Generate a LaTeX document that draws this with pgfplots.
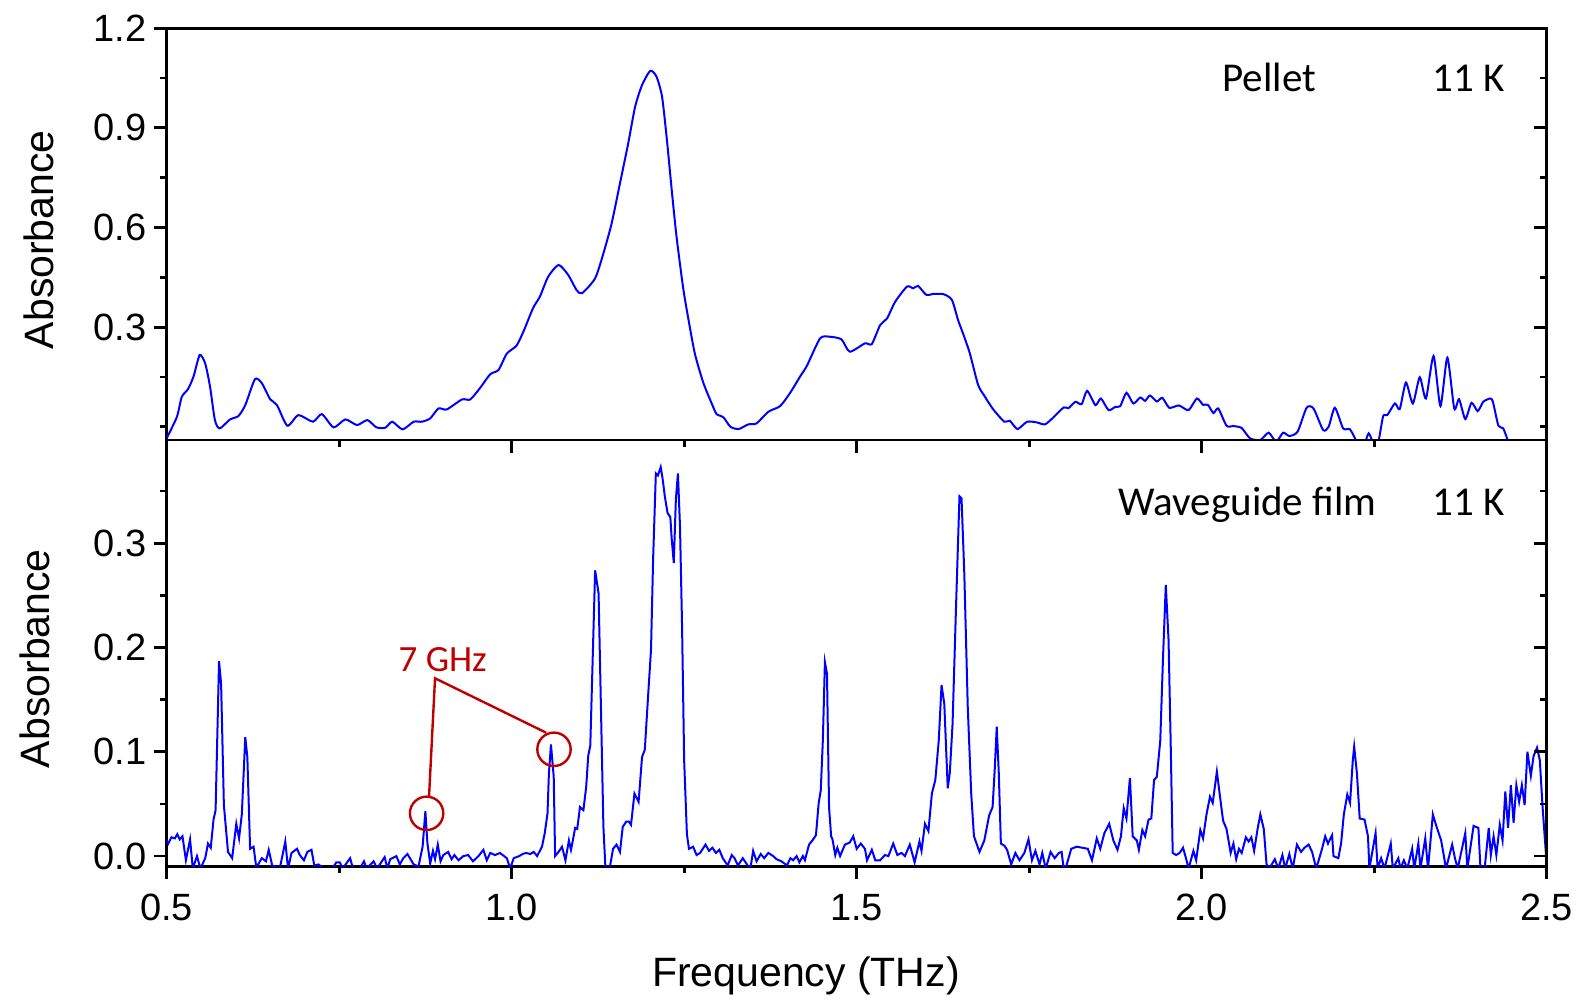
\documentclass[border=0pt]{standalone}
\usepackage{pgfplots}
\pgfplotsset{compat=1.18}
\usepackage{pgfplotstable}
\usepackage{fontspec}
\setmainfont{Liberation Sans}
\newfontfamily\calib{Carlito}
\definecolor{annred}{RGB}{192,0,0}

\pgfplotstableread{
x y
0.500 -0.035
0.515 0.030
0.522 0.090
0.531 0.113
0.539 0.151
0.548 0.216
0.556 0.190
0.563 0.120
0.570 0.020
0.577 -0.005
0.592 0.022
0.604 0.032
0.614 0.065
0.628 0.143
0.638 0.131
0.650 0.083
0.660 0.065
0.675 0.003
0.691 0.035
0.712 0.015
0.725 0.038
0.742 -0.002
0.759 0.022
0.776 0.005
0.791 0.020
0.804 -0.002
0.817 -0.003
0.827 0.015
0.842 -0.008
0.858 0.015
0.870 0.015
0.882 0.025
0.894 0.055
0.906 0.052
0.928 0.082
0.940 0.082
0.954 0.116
0.969 0.158
0.981 0.171
0.993 0.220
1.007 0.244
1.017 0.286
1.031 0.357
1.041 0.392
1.053 0.452
1.068 0.487
1.082 0.457
1.094 0.412
1.102 0.402
1.121 0.447
1.133 0.522
1.145 0.613
1.157 0.733
1.169 0.854
1.179 0.964
1.189 1.029
1.201 1.072
1.210 1.054
1.218 0.994
1.225 0.864
1.232 0.713
1.239 0.572
1.249 0.412
1.259 0.291
1.266 0.216
1.278 0.131
1.292 0.060
1.297 0.038
1.307 0.028
1.317 0.000
1.329 -0.007
1.343 0.007
1.355 0.010
1.372 0.045
1.389 0.062
1.403 0.100
1.418 0.151
1.428 0.184
1.447 0.266
1.461 0.271
1.478 0.263
1.490 0.226
1.512 0.251
1.522 0.249
1.534 0.306
1.544 0.326
1.556 0.377
1.573 0.422
1.582 0.417
1.589 0.424
1.601 0.397
1.611 0.400
1.626 0.399
1.638 0.382
1.647 0.321
1.655 0.276
1.664 0.221
1.676 0.126
1.686 0.090
1.698 0.052
1.714 0.015
1.722 0.018
1.733 -0.007
1.747 0.015
1.761 0.013
1.773 0.007
1.785 0.028
1.800 0.058
1.807 0.056
1.817 0.075
1.826 0.068
1.834 0.108
1.846 0.065
1.854 0.085
1.865 0.050
1.875 0.060
1.882 0.062
1.891 0.102
1.901 0.070
1.911 0.088
1.918 0.078
1.925 0.094
1.935 0.076
1.943 0.087
1.953 0.057
1.967 0.064
1.981 0.050
1.993 0.085
2.002 0.066
2.009 0.066
2.017 0.041
2.024 0.055
2.036 0.003
2.046 0.002
2.058 -0.004
2.070 -0.035
2.085 -0.040
2.097 -0.018
2.108 -0.045
2.118 -0.018
2.127 -0.028
2.139 -0.015
2.152 0.057
2.162 0.055
2.176 -0.010
2.184 0.000
2.193 0.057
2.205 -0.005
2.215 -0.008
2.225 -0.045
2.235 -0.055
2.242 -0.020
2.249 -0.050
2.256 -0.045
2.263 0.032
2.269 0.035
2.280 0.070
2.287 0.053
2.296 0.133
2.306 0.070
2.316 0.149
2.325 0.085
2.336 0.213
2.346 0.062
2.356 0.208
2.366 0.055
2.373 0.083
2.382 0.023
2.391 0.072
2.400 0.047
2.408 0.075
2.418 0.085
2.422 0.075
2.430 0.003
2.437 -0.005
2.445 -0.050
}\pellet

\pgfplotstableread{
x y
0.500 0.015
0.5025 0.012
0.507 0.018
0.512 0.017
0.5155 0.021
0.519 0.016
0.523 0.019
0.528 -0.004
0.534 0.016
0.538 -0.012
0.544 0.000
0.549 -0.012
0.556 -0.002
0.560 0.012
0.564 0.008
0.568 0.035
0.571 0.044
0.576 0.187
0.579 0.165
0.583 0.049
0.589 0.004
0.595 -0.002
0.601 0.031
0.605 0.017
0.609 0.040
0.614 0.114
0.617 0.095
0.621 0.007
0.626 0.009
0.630 -0.011
0.638 -0.002
0.644 -0.005
0.648 0.006
0.653 -0.009
0.664 -0.012
0.672 0.014
0.676 -0.012
0.681 0.003
0.689 0.007
0.693 0.001
0.699 -0.004
0.704 0.004
0.710 0.006
0.714 -0.009
0.720 -0.008
0.728 -0.012
0.740 -0.012
0.746 -0.006
0.751 -0.006
0.755 -0.012
0.766 -0.002
0.770 -0.012
0.780 -0.012
0.786 -0.005
0.790 -0.012
0.800 -0.005
0.805 -0.012
0.816 -0.001
0.820 -0.012
0.824 -0.003
0.833 0.000
0.838 -0.008
0.843 -0.002
0.849 0.002
0.858 -0.008
0.865 -0.010
0.871 0.009
0.875 0.043
0.878 0.012
0.882 -0.007
0.886 0.005
0.889 -0.003
0.893 0.011
0.897 -0.005
0.901 0.001
0.908 0.004
0.913 -0.003
0.917 0.001
0.923 -0.004
0.930 0.000
0.937 0.001
0.944 -0.005
0.952 0.000
0.959 0.006
0.964 -0.004
0.969 0.003
0.976 0.001
0.983 0.003
0.993 -0.002
0.998 -0.012
1.003 -0.002
1.011 0.000
1.016 0.002
1.021 0.003
1.027 0.002
1.032 0.004
1.037 0.000
1.044 0.009
1.048 0.022
1.052 0.041
1.054 0.079
1.057 0.107
1.061 0.076
1.063 0.000
1.068 0.004
1.073 0.009
1.078 -0.004
1.083 0.015
1.086 0.006
1.089 0.016
1.092 0.027
1.095 0.026
1.097 0.036
1.099 0.047
1.104 0.044
1.108 0.066
1.111 0.096
1.114 0.106
1.121 0.274
1.126 0.252
1.129 0.156
1.133 0.028
1.136 -0.012
1.142 -0.012
1.147 0.007
1.152 0.011
1.157 0.004
1.161 0.028
1.166 0.033
1.170 0.033
1.173 0.030
1.178 0.060
1.184 0.052
1.189 0.095
1.193 0.102
1.198 0.156
1.202 0.198
1.205 0.284
1.209 0.367
1.212 0.365
1.214 0.369
1.216 0.373
1.219 0.361
1.222 0.345
1.226 0.329
1.230 0.325
1.232 0.304
1.235 0.281
1.238 0.342
1.241 0.367
1.244 0.316
1.247 0.220
1.250 0.092
1.254 0.021
1.257 0.007
1.263 0.009
1.268 0.001
1.273 0.003
1.281 0.011
1.286 0.005
1.291 0.008
1.296 0.003
1.301 0.006
1.306 -0.002
1.313 -0.009
1.319 0.001
1.323 -0.002
1.328 -0.009
1.335 -0.002
1.342 -0.009
1.346 -0.012
1.350 0.005
1.355 -0.005
1.361 0.002
1.366 -0.002
1.372 0.003
1.379 0.000
1.384 -0.003
1.391 -0.005
1.399 -0.009
1.404 -0.002
1.408 -0.004
1.413 0.000
1.417 -0.006
1.422 0.000
1.425 -0.004
1.431 0.011
1.437 0.016
1.441 0.020
1.445 0.051
1.448 0.063
1.451 0.111
1.454 0.186
1.457 0.175
1.460 0.047
1.463 0.019
1.465 0.016
1.469 0.001
1.472 0.008
1.476 0.000
1.483 0.011
1.490 0.013
1.495 0.019
1.500 0.007
1.506 0.012
1.512 0.007
1.515 -0.004
1.522 0.006
1.527 -0.004
1.534 -0.004
1.541 0.001
1.546 0.000
1.553 0.012
1.559 0.001
1.565 0.003
1.570 0.000
1.577 0.011
1.584 -0.006
1.591 0.014
1.594 0.005
1.599 0.031
1.604 0.024
1.609 0.060
1.614 0.073
1.619 0.111
1.623 0.164
1.627 0.146
1.632 0.065
1.635 0.080
1.639 0.127
1.644 0.239
1.649 0.345
1.652 0.343
1.656 0.271
1.661 0.143
1.666 0.060
1.670 0.019
1.678 0.004
1.685 0.015
1.692 0.039
1.697 0.047
1.700 0.082
1.703 0.124
1.706 0.079
1.709 0.012
1.714 0.010
1.718 0.006
1.724 -0.008
1.730 0.003
1.736 -0.004
1.743 0.003
1.749 0.016
1.754 -0.004
1.759 0.005
1.765 -0.008
1.769 0.003
1.774 -0.012
1.781 0.004
1.787 -0.002
1.793 0.003
1.797 0.004
1.800 -0.012
1.804 -0.009
1.811 0.007
1.819 0.009
1.827 0.008
1.835 0.007
1.841 -0.004
1.848 0.017
1.853 0.007
1.859 0.022
1.866 0.031
1.872 0.015
1.878 0.006
1.883 0.019
1.887 0.046
1.891 0.036
1.896 0.075
1.900 0.019
1.906 0.015
1.909 0.006
1.914 0.025
1.918 0.019
1.923 0.035
1.927 0.036
1.931 0.073
1.935 0.076
1.940 0.111
1.944 0.191
1.948 0.260
1.952 0.207
1.955 0.111
1.958 0.003
1.963 0.001
1.968 0.003
1.973 0.008
1.978 -0.004
1.981 -0.012
1.988 0.005
1.992 -0.004
1.998 0.025
2.002 0.017
2.007 0.040
2.012 0.057
2.016 0.051
2.022 0.081
2.026 0.060
2.031 0.034
2.036 0.026
2.042 0.003
2.046 0.012
2.050 -0.003
2.054 0.007
2.058 0.003
2.064 0.018
2.068 0.014
2.072 0.018
2.076 0.005
2.081 0.026
2.085 0.040
2.090 0.026
2.094 -0.008
2.098 -0.012
2.106 -0.003
2.111 -0.012
2.117 0.001
2.121 -0.012
2.127 0.002
2.132 -0.012
2.138 0.011
2.144 0.004
2.149 0.008
2.155 0.011
2.160 0.004
2.166 -0.012
2.174 0.006
2.179 0.019
2.183 0.012
2.189 0.020
2.191 0.000
2.198 -0.002
2.202 0.012
2.206 0.040
2.211 0.059
2.215 0.051
2.219 0.092
2.221 0.105
2.225 0.079
2.229 0.036
2.236 0.035
2.241 0.019
2.243 -0.012
2.252 0.022
2.255 -0.012
2.260 -0.002
2.265 -0.012
2.274 0.012
2.277 -0.012
2.285 -0.002
2.288 -0.012
2.293 -0.004
2.298 -0.012
2.305 0.007
2.308 -0.012
2.314 0.012
2.317 -0.012
2.324 0.017
2.328 -0.012
2.335 0.040
2.339 0.031
2.347 0.015
2.351 0.000
2.354 -0.012
2.363 0.011
2.367 -0.002
2.371 -0.012
2.382 0.022
2.385 -0.012
2.394 0.029
2.401 0.027
2.404 -0.012
2.410 -0.012
2.416 0.027
2.419 0.001
2.423 0.019
2.427 0.001
2.432 0.030
2.436 0.015
2.440 0.062
2.444 0.027
2.448 0.068
2.452 0.032
2.456 0.068
2.460 0.052
2.464 0.068
2.468 0.049
2.472 0.100
2.477 0.077
2.481 0.096
2.486 0.104
2.490 0.092
2.494 0.047
2.499 0.001
}\film

\pgfplotsset{
  common/.style={
    scale only axis, width=690.05pt, xmin=0.5, xmax=2.5,
    anchor=south west,
    axis line style={line width=1.4pt},
    every tick/.style={line width=1.4pt, black},
    major tick length=6.5pt, minor tick length=3.5pt,
    xtick={0.5,1.0,1.5,2.0,2.5}, minor xtick={0.75,1.25,1.75,2.25},
    tick label style={font=\fontsize{19}{21}\selectfont},
    label style={font=\fontsize{20.5}{24}\selectfont},
  },
  toppanel/.style={common, at={(83.3pt,280pt)}, height=205.85pt,
    ymin=-0.04, ymax=1.2,
    ytick={0.3,0.6,0.9,1.2}, minor ytick={0,0.15,0.45,0.75,1.05}},
  botpanel/.style={common, at={(83.3pt,66.9pt)}, height=213.1pt,
    ymin=-0.0097, ymax=0.399,
    ytick={0,0.1,0.2,0.3}, minor ytick={0.05,0.15,0.25,0.35}},
  rightticks/.style={axis y line*=right, hide x axis, tick align=inside,
    yticklabels={}, xtick=\empty, minor xtick={}},
}

\begin{document}
\begin{tikzpicture}
\useasboundingbox (0,0) rectangle (791.5pt,500pt);

% ---- top panel: pellet ----
\begin{axis}[toppanel,
  tick align=outside, xtick pos=left, ytick pos=left,
  xticklabels={}, yticklabels={0.3,0.6,0.9,1.2},
  ylabel={Absorbance},
  ylabel style={at={(rel axis cs:-0.0816,0.4865)}, anchor=base, rotate=0},
  ]
\addplot[blue, line width=1pt, smooth, tension=0.4] table[x=x,y=y] {\pellet};
\node[anchor=base west, inner sep=0pt, font=\calib\fontsize{20.5}{24}\selectfont]
  at (axis cs:2.0296,1.0084) {Pellet};
\node[anchor=base west, inner sep=0pt, font=\calib\fontsize{20.5}{24}\selectfont]
  at (axis cs:2.3339,1.0084) {11 K};
\end{axis}
\begin{axis}[toppanel, rightticks]
\end{axis}

% ---- bottom panel: waveguide film ----
\begin{axis}[botpanel,
  tick align=outside, xtick pos=left, ytick pos=left,
  xticklabels={0.5,1.0,1.5,2.0,2.5}, yticklabels={0.0,0.1,0.2,0.3},
  xticklabel style={yshift=-4pt},
  xlabel={Frequency (THz)},
  xlabel style={at={(rel axis cs:0.4633,-0.2827)}, anchor=base},
  ylabel={Absorbance},
  ylabel style={at={(rel axis cs:-0.0849,0.487)}, anchor=base, rotate=0},
  ]
\addplot[blue, line width=1pt] table[x=x,y=y] {\film};
\node[anchor=base west, inner sep=0pt, font=\calib\fontsize{20.5}{24}\selectfont]
  at (axis cs:1.879,0.327) {Waveguide film};
\node[anchor=base west, inner sep=0pt, font=\calib\fontsize{20.5}{24}\selectfont]
  at (axis cs:2.334,0.327) {11 K};
\node[anchor=base west, inner sep=0pt, text=annred, font=\calib\fontsize{18.5}{22}\selectfont]
  at (axis cs:0.8358,0.1768) {7 GHz};
\draw[annred, line width=1.2pt] (axis cs:0.8768,0.0410) circle[radius=8.35pt];
\draw[annred, line width=1.2pt] (axis cs:1.0614,0.1024) circle[radius=8.35pt];
\draw[annred, line width=1.2pt] (axis cs:0.8803,0.0569) -- (axis cs:0.8890,0.1705) -- (axis cs:1.0501,0.1183);
\end{axis}
\begin{axis}[botpanel, rightticks]
\end{axis}
\end{tikzpicture}
\end{document}
